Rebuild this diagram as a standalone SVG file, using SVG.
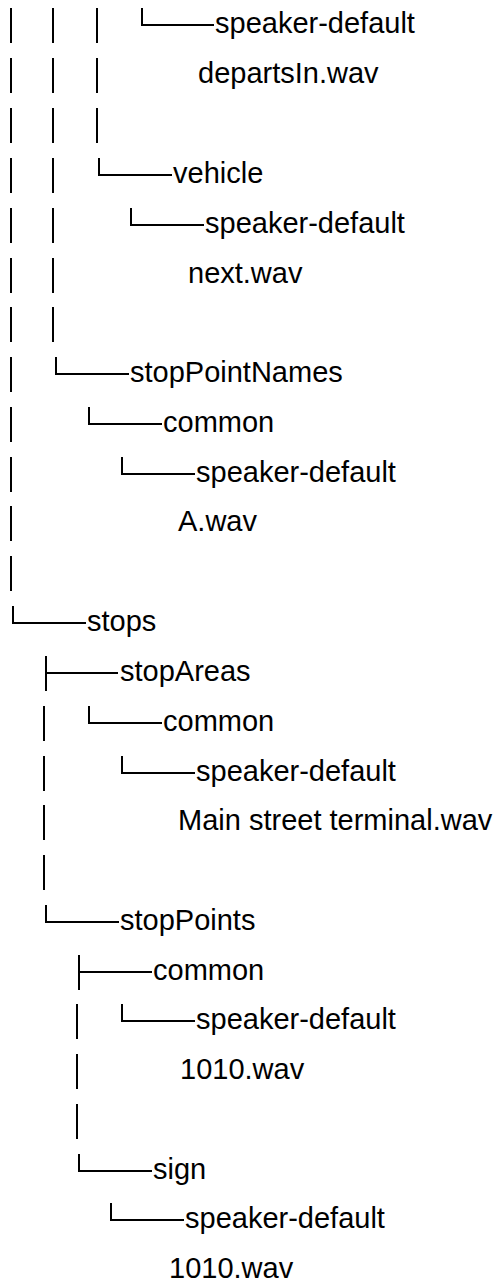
<svg xmlns="http://www.w3.org/2000/svg" width="498" height="1282" viewBox="0 0 498 1282">
<style>
.c{fill:none;stroke:#000;stroke-width:2;stroke-linecap:butt;stroke-linejoin:miter}
.t{font-family:"Liberation Sans",Arial,sans-serif;font-size:29px;fill:#000}
</style>
<rect width="498" height="1282" fill="#fff"/>
<g id="connectors" class="c">
<path d="M11 8V43M53 8V43M97 8V43M142 8V25H214"/>
<path d="M11 58V93M53 58V93M97 58V93"/>
<path d="M11 108V143M53 108V143M97 108V143"/>
<path d="M11 158V193M53 158V193M99 158V175H172"/>
<path d="M11 208V243M53 208V243M131 208V225H204"/>
<path d="M11 258V293M53 258V293"/>
<path d="M11 307V342M53 307V342"/>
<path d="M11 357V392M56 357V374H129"/>
<path d="M11 407V442M89 407V424H162"/>
<path d="M11 457V492M122 457V474H195"/>
<path d="M11 506V541"/>
<path d="M11 556V591"/>
<path d="M13 606V623H86"/>
<path d="M46 656V691M46 673H118"/>
<path d="M44 706V741M89 706V723H162"/>
<path d="M44 756V791M122 756V773H195"/>
<path d="M44 805V840"/>
<path d="M44 855V890"/>
<path d="M46 905V922H119"/>
<path d="M79 955V990M79 972H152"/>
<path d="M77 1004V1039M122 1004V1021H195"/>
<path d="M77 1054V1089"/>
<path d="M77 1104V1139"/>
<path d="M79 1154V1171H152"/>
<path d="M111 1203V1220H184"/>
</g>
<g id="n-speaker1"><text class="t" x="215" y="33">speaker-default</text></g>
<g id="n-departsIn"><text class="t" x="198" y="83">departsIn.wav</text></g>
<g id="n-vehicle"><text class="t" x="173" y="183">vehicle</text></g>
<g id="n-speaker2"><text class="t" x="205" y="233">speaker-default</text></g>
<g id="n-next"><text class="t" x="188" y="283">next.wav</text></g>
<g id="n-stopPointNames"><text class="t" x="130" y="382">stopPointNames</text></g>
<g id="n-common1"><text class="t" x="163" y="432">common</text></g>
<g id="n-speaker3"><text class="t" x="196" y="482">speaker-default</text></g>
<g id="n-A"><text class="t" x="178" y="531">A.wav</text></g>
<g id="n-stops"><text class="t" x="87" y="631">stops</text></g>
<g id="n-stopAreas"><text class="t" x="120" y="681">stopAreas</text></g>
<g id="n-common2"><text class="t" x="163" y="731">common</text></g>
<g id="n-speaker4"><text class="t" x="196" y="781">speaker-default</text></g>
<g id="n-main"><text class="t" x="178" y="830">Main street terminal.wav</text></g>
<g id="n-stopPoints"><text class="t" x="120" y="930">stopPoints</text></g>
<g id="n-common3"><text class="t" x="153" y="980">common</text></g>
<g id="n-speaker5"><text class="t" x="196" y="1029">speaker-default</text></g>
<g id="n-1010a"><text class="t" x="180" y="1079">1010.wav</text></g>
<g id="n-sign"><text class="t" x="153" y="1179">sign</text></g>
<g id="n-speaker6"><text class="t" x="185" y="1228">speaker-default</text></g>
<g id="n-1010b"><text class="t" x="169" y="1278">1010.wav</text></g>
</svg>
